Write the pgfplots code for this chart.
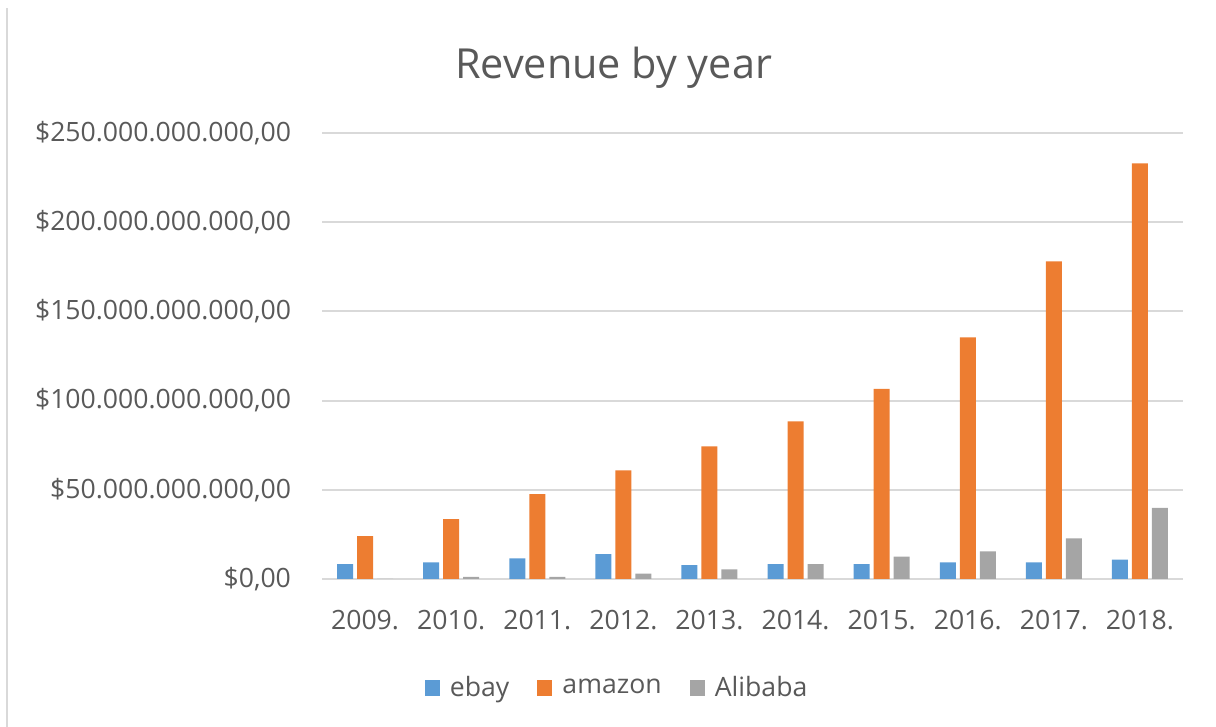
\documentclass[border=0pt]{standalone}
\usepackage{fontspec}
\setmainfont{Open Sans}
\usepackage{pgfplots}
\pgfplotsset{compat=1.18}
\definecolor{ebayc}{HTML}{5B9BD5}
\definecolor{amzc}{HTML}{ED7D31}
\definecolor{alic}{HTML}{A5A5A5}
\definecolor{txt}{HTML}{595959}
\definecolor{gridc}{HTML}{D9D9D9}
\begin{document}
\begin{tikzpicture}
\path[use as bounding box] (0,0) rectangle (608pt,363.5pt);
\draw[gridc, line width=0.8pt] (3.5pt,0) -- (3.5pt,359.5pt);
\begin{axis}[
    at={(161pt,74pt)}, anchor=south west,
    scale only axis, width=430.5pt, height=223pt,
    ybar=2pt, bar width=8pt,
    xmin=-0.5, xmax=9.5, ymin=0, ymax=250,
    xtick={0,...,9},
    xticklabels={2009.,2010.,2011.,2012.,2013.,2014.,2015.,2016.,2017.,2018.},
    ytick={0,50,100,150,200,250},
    yticklabels={{\$0,00},{\$50.000.000.000,00},{\$100.000.000.000,00},{\$150.000.000.000,00},{\$200.000.000.000,00},{\$250.000.000.000,00}},
    axis line style={draw=none},
    major tick length=0pt,
    xmajorgrids=false, ymajorgrids=true,
    grid style={gridc, line width=1pt},
    tick label style={font=\fontsize{13.3}{15}\selectfont, text=txt},
    yticklabel style={xshift=-12pt},
    xticklabel style={yshift=-12pt},
    title={Revenue by year},
    title style={at={(axis description cs:0.3386,1.12)}, anchor=center, font=\fontsize{20.7}{24}\selectfont, text=txt},
    legend style={at={(axis description cs:0.3438,-0.2444)}, anchor=center, draw=none,
        legend columns=3, font=\fontsize{13.3}{15}\selectfont, text=txt,
        /tikz/every odd column/.append style={column sep=3pt},
        /tikz/every even column/.append style={column sep=12pt}},
    legend image code/.code={\fill[#1] (0pt,-3.8pt) rectangle (7.6pt,3.8pt);},
]
\addplot[fill=ebayc, draw=none] coordinates {
(0,8.4) (1,9.3) (2,11.6) (3,14.0) (4,7.8) (5,8.4) (6,8.4) (7,9.3) (8,9.3) (9,10.8)};
\addplot[fill=amzc, draw=none] coordinates {
(0,24.1) (1,33.6) (2,47.6) (3,60.9) (4,74.3) (5,88.3) (6,106.6) (7,135.5) (8,178.0) (9,233.0)};
\addplot[fill=alic, draw=none] coordinates {
(0,0) (1,1.2) (2,1.2) (3,3.0) (4,5.4) (5,8.4) (6,12.5) (7,15.5) (8,22.8) (9,39.8)};
\legend{ebay,amazon,Alibaba}
\end{axis}
\end{tikzpicture}
\end{document}
